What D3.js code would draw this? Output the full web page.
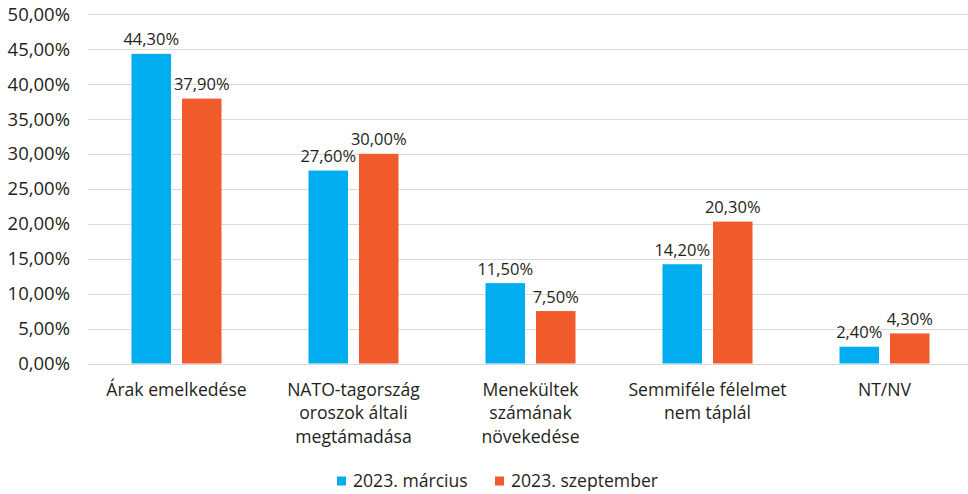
<!DOCTYPE html>
<html>
<head>
<meta charset="utf-8">
<script src="https://cdn.jsdelivr.net/npm/d3@7"></script>
<style>
  body { margin: 0; background: #fff; }
  text { font-family: "Open Sans", sans-serif; fill: #231f20; }
</style>
</head>
<body>
<script>
var categories = [
  ["Árak emelkedése"],
  ["NATO-tagország", "oroszok általi", "megtámadása"],
  ["Menekültek", "számának", "növekedése"],
  ["Semmiféle félelmet", "nem táplál"],
  ["NT/NV"]
];
var seriesNames = ["2023. március", "2023. szeptember"];
var marcius = [44.3, 27.6, 11.5, 14.2, 2.4];
var szeptember = [37.9, 30.0, 7.5, 20.3, 4.3];
var yTicks = [0, 5, 10, 15, 20, 25, 30, 35, 40, 45, 50];
var colors = ["#00aeef", "#f15a2b"];

// plot runs past the right edge of the picture, as in the original
var margin = {top: 14, right: -5, bottom: 130.5, left: 88},
    width = 968 - margin.left - margin.right,
    height = 494 - margin.top - margin.bottom;

var fmt = function(v) { return v.toFixed(2).replace(".", ",") + "%"; };

var svg = d3.select("body").append("svg")
    .attr("width", 968)
    .attr("height", 494)
  .append("g")
    .attr("transform", "translate(" + margin.left + "," + margin.top + ")");

var x = d3.scaleBand()
    .domain(d3.range(categories.length))
    .range([0, width]);

var x1 = d3.scaleBand()
    .domain([0, 1])
    .range([x.bandwidth() / 2 - 45, x.bandwidth() / 2 + 45])
    .paddingInner(0.218);

var y = d3.scaleLinear()
    .domain([0, 50])
    .range([height, 0]);

// gridlines
svg.append("g")
  .selectAll("line")
  .data(yTicks)
  .enter().append("line")
    .attr("x1", 0)
    .attr("x2", width)
    .attr("y1", function(d) { return Math.round(y(d)) + 0.5; })
    .attr("y2", function(d) { return Math.round(y(d)) + 0.5; })
    .attr("stroke", "#d9d9d9")
    .attr("stroke-width", 1);

// y labels
svg.append("g")
  .selectAll("text")
  .data(yTicks)
  .enter().append("text")
    .attr("x", -18)
    .attr("y", function(d) { return y(d); })
    .attr("dy", "0.36em")
    .attr("text-anchor", "end")
    .style("font-size", "18.5px")
    .text(fmt);

var series = [marcius, szeptember];

series.forEach(function(vals, s) {
  var g = svg.append("g");
  g.selectAll("rect")
    .data(vals)
    .enter().append("rect")
      .attr("x", function(d, i) { return x(i) + x1(s); })
      .attr("y", function(d) { return y(d); })
      .attr("width", x1.bandwidth())
      .attr("height", function(d) { return height - y(d); })
      .attr("fill", colors[s]);
  g.selectAll("text")
    .data(vals)
    .enter().append("text")
      .attr("x", function(d, i) { return x(i) + x1(s) + x1.bandwidth() / 2; })
      .attr("y", function(d) { return y(d) - 8.5; })
      .attr("text-anchor", "middle")
      .style("font-size", "16.5px")
      .text(fmt);
});

// category labels
var cat = svg.append("g")
  .selectAll("text")
  .data(categories)
  .enter().append("text")
    .attr("x", function(d, i) { return x(i) + x.bandwidth() / 2; })
    .attr("y", height + 32)
    .attr("text-anchor", "middle")
    .style("font-size", "17.6px");

cat.selectAll("tspan")
  .data(function(d) { return d; })
  .enter().append("tspan")
    .attr("x", function() { return d3.select(this.parentNode).attr("x"); })
    .attr("dy", function(d, i) { return i ? 23.5 : 0; })
    .text(function(d) { return d; });

// legend
var legend = d3.select("svg").append("g")
    .attr("transform", "translate(337,481)");

var lx = [0, 158];
seriesNames.forEach(function(name, i) {
  legend.append("rect")
    .attr("x", lx[i])
    .attr("y", -4.5)
    .attr("width", 9)
    .attr("height", 9)
    .attr("fill", colors[i]);
  legend.append("text")
    .attr("x", lx[i] + 16)
    .attr("y", 0)
    .attr("dy", "0.36em")
    .style("font-size", "17.6px")
    .text(name);
});
</script>
</body>
</html>
